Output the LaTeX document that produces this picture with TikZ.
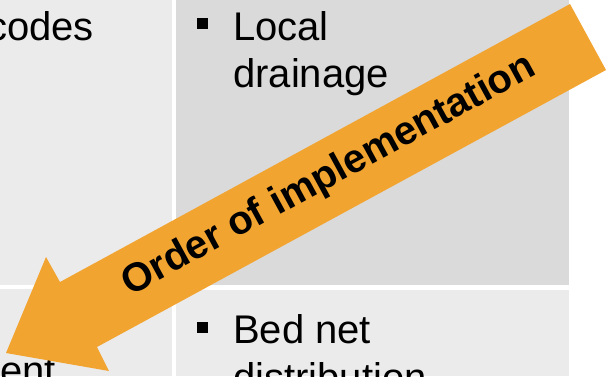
\documentclass[tikz,border=0pt]{standalone}
\usepackage{fontspec}
\setmainfont{Liberation Sans}
\definecolor{cellLight}{HTML}{EBEBEB}
\definecolor{cellDark}{HTML}{DADADA}
\definecolor{arrowOrange}{HTML}{F2A431}
\begin{document}
\begin{tikzpicture}[x=1pt,y=-1pt,
  txt/.style={inner sep=0pt, font=\fontsize{40}{47}\selectfont, anchor=base west},
  bul/.style={fill=black, minimum size=11pt, inner sep=0pt},
  arrowtext/.style={inner sep=0pt, font=\bfseries\fontsize{40}{40}\selectfont, rotate=28.6}]
\useasboundingbox (0,0) rectangle (607,376);
\clip (0,0) rectangle (607,376);
\fill[white] (0,0) rectangle (607,376);
% cells
\fill[cellLight] (0,0) rectangle (172,285);
\fill[cellDark] (176,0) rectangle (569,285);
\fill[cellLight] (0,289) rectangle (172,376);
\fill[cellLight] (176,290) rectangle (569,376);
% texts
\node[txt, anchor=base east] (codes) at (94,40) {codes};
\node[bul] (b1) at (202.5,23.5) {};
\node[txt] (local) at (233,40) {Local};
\node[txt] (drain) at (233,87) {drainage};
\node[bul] (b2) at (202.5,327.5) {};
\node[txt] (bed) at (233,343) {Bed net};
\node[txt] (distr) at (233,391) {distribution};
\node[txt, anchor=base east] (ent) at (56,384) {ent};
% arrow
\fill[arrowOrange] (570,4) -- (606,70) -- (97,347) -- (109,371) -- (6,353) -- (46,257) -- (60,282) -- cycle;
\node[arrowtext] (order) at (329,176) {Order of implementation};
\end{tikzpicture}
\end{document}
